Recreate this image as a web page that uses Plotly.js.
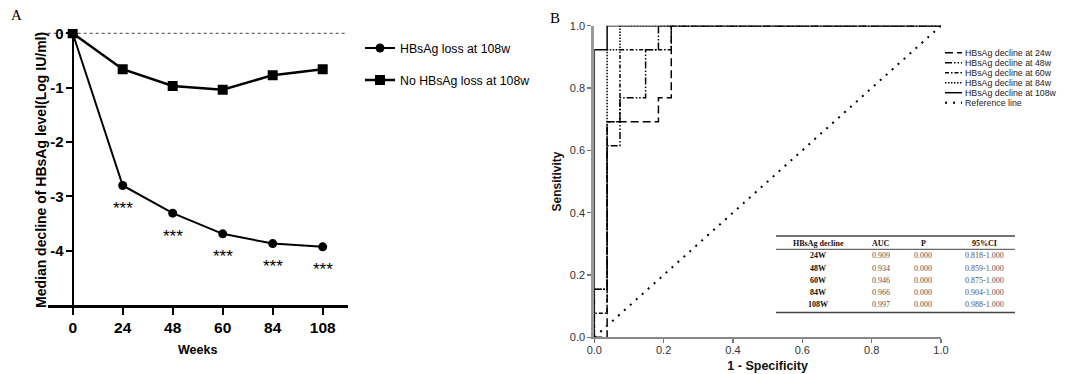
<!DOCTYPE html>
<html><head><meta charset="utf-8">
<script src="https://cdn.plot.ly/plotly-3.0.1.min.js"></script>
<style>html,body{margin:0;padding:0;background:#fff}#chart{width:1073px;height:374px}</style>
</head><body><div id="chart"></div>
<script>
// ---------- Panel A data ----------
const weeks = ['0', '24', '48', '60', '84', '108'];
const lossName = 'HBsAg loss at 108w';
const noLossName = 'No HBsAg loss at 108w';
const lossDecline = [0, -2.80, -3.31, -3.69, -3.87, -3.93];
const noLossDecline = [0, -0.66, -0.97, -1.04, -0.77, -0.66];
const sigMarks = ['', '***', '***', '***', '***', '***'];
const aYTickVals = [0, -1, -2, -3, -4];
const aYTickText = ['0', '-1', '-2', '-3', '-4'];
const aYTitle = 'Median decline of HBsAg level(Log IU/ml)';

// ---------- Panel B data ----------
const rocNames = ['HBsAg decline at 24w', 'HBsAg decline at 48w', 'HBsAg decline at 60w',
                  'HBsAg decline at 84w', 'HBsAg decline at 108w'];
const refName = 'Reference line';
const fpr24 = [0, 0.037, 0.037, 0.185, 0.185, 0.222, 0.222, 1];
const tpr24 = [0, 0, 0.692, 0.692, 0.769, 0.769, 1, 1];
const fpr48 = [0, 0, 0.037, 0.037, 0.074, 0.074, 0.148, 0.148, 0.185, 0.185, 1];
const tpr48 = [0, 0.154, 0.154, 0.615, 0.615, 0.769, 0.769, 0.923, 0.923, 1, 1];
const fpr60 = [0, 0, 0.037, 0.037, 0.074, 0.074, 0.222, 0.222, 1];
const tpr60 = [0, 0.077, 0.077, 0.692, 0.692, 0.923, 0.923, 1, 1];
const fpr84 = [0, 0, 0.037, 0.037, 0.074, 0.074, 1];
const tpr84 = [0, 0.154, 0.154, 0.923, 0.923, 1, 1];
const fpr108 = [0, 0, 0.037, 0.037, 1];
const tpr108 = [0, 0.923, 0.923, 1, 1];
const fprRef = [0, 1];
const tprRef = [0, 1];
const bTickVals = [0, 0.2, 0.4, 0.6, 0.8, 1.0];
const bTickText = ['0.0', '0.2', '0.4', '0.6', '0.8', '1.0'];

// ---------- Table data ----------
const tableHeader = ['HBsAg decline', 'AUC', 'P', '95%CI'];
const tableRows = ['24W', '48W', '60W', '84W', '108W'];
const aucVals = ['0.909', '0.934', '0.946', '0.966', '0.997'];
const pVals = ['0.000', '0.000', '0.000', '0.000', '0.000'];
const ciVals = ['0.818-1.000', '0.859-1.000', '0.875-1.000', '0.904-1.000', '0.988-1.000'];

// ---------- helpers (pixel -> paper) ----------
const W = 1073, H = 374;
const px = v => v / W;
const py = v => 1 - v / H;
const SANS = 'Liberation Sans, Arial, sans-serif';
const SERIF = 'Liberation Serif, Times New Roman, serif';

const rocX = [fpr24, fpr48, fpr60, fpr84, fpr108];
const rocY = [tpr24, tpr48, tpr60, tpr84, tpr108];
const rocDash = ['8px,4px', '7px,2px,1.5px,2px,1.5px,2px', '4px,2px,1.5px,2px', '1.5px,1.5px', 'solid'];
const refDash = '2px,6px';

const traces = [
  {x: weeks, y: lossDecline, name: lossName, type: 'scatter', mode: 'lines+markers',
   xaxis: 'x', yaxis: 'y', legendgroup: 'g1',
   line: {color: '#000', width: 2}, marker: {symbol: 'circle', size: 9, color: '#000'}},
  {x: weeks, y: noLossDecline, name: noLossName, type: 'scatter', mode: 'lines+markers',
   xaxis: 'x', yaxis: 'y', legendgroup: 'g2',
   line: {color: '#000', width: 2.5}, marker: {symbol: 'square', size: 10, color: '#000'}},
  {x: fprRef, y: tprRef, name: refName, type: 'scatter', mode: 'lines', xaxis: 'x2', yaxis: 'y2',
   showlegend: false, line: {color: '#000', width: 2, dash: refDash}}
];
rocNames.forEach((n, i) => {
  traces.push({x: rocX[i], y: rocY[i], name: n, type: 'scatter', mode: 'lines',
    xaxis: 'x2', yaxis: 'y2', showlegend: false,
    line: {color: '#000', width: 1.5, dash: rocDash[i], shape: 'linear'}});
});

const annotations = [
  {text: 'A', xref: 'paper', yref: 'paper', x: px(16.7), y: py(15), xanchor: 'center', yanchor: 'middle',
   showarrow: false, font: {family: SERIF, size: 15, color: '#000'}},
  {text: 'B', xref: 'paper', yref: 'paper', x: px(555), y: py(18.3), xanchor: 'center', yanchor: 'middle',
   showarrow: false, font: {family: SERIF, size: 15, color: '#000'}},
  {text: aYTitle, xref: 'paper', yref: 'paper', x: px(41.5), y: py(170.5), xanchor: 'center', yanchor: 'middle',
   textangle: -90, showarrow: false, font: {family: SANS, size: 14, weight: 'bold', color: '#000'}}
];
weeks.forEach((w, i) => {
  if (sigMarks[i]) annotations.push({text: sigMarks[i], xref: 'x', yref: 'y', x: weeks.indexOf(w),
    y: lossDecline[i], yshift: -23, xanchor: 'center', yanchor: 'middle', showarrow: false,
    font: {family: SANS, size: 17, color: '#000'}});
});

const shapes = [
  {type: 'line', xref: 'x domain', yref: 'y', x0: 0, x1: 1, y0: 0, y1: 0, layer: 'below',
   line: {color: '#444', width: 1, dash: 'dot'}}
];

// manual legend for panel B
const bLegNames = rocNames.concat([refName]);
const bLegDash = rocDash.concat([refDash]);
const bLegWidth = [1.5, 1.5, 1.5, 1.5, 1.5, 2];
bLegNames.forEach((n, i) => {
  const yy = 52.7 + i * 10;
  shapes.push({type: 'line', xref: 'paper', yref: 'paper', x0: px(945), x1: px(962), y0: py(yy), y1: py(yy),
    line: {color: '#000', width: bLegWidth[i], dash: bLegDash[i]}});
  annotations.push({text: n, xref: 'paper', yref: 'paper', x: px(963), y: py(yy), xanchor: 'left',
    yanchor: 'middle', showarrow: false, font: {family: SANS, size: 8.8, color: '#222'}});
});

// table
const tL = 776, tR = 1015;
[[236, 1.5], [249.3, 1], [312.5, 1.5]].forEach(([yy, w]) => {
  shapes.push({type: 'line', xref: 'paper', yref: 'paper', x0: px(tL), x1: px(tR), y0: py(yy), y1: py(yy),
    line: {color: '#444', width: w}});
});
const colX = [818.3, 880.5, 923.3, 984];
tableHeader.forEach((h, j) => {
  annotations.push({text: '<b>' + h + '</b>', xref: 'paper', yref: 'paper', x: px(colX[j]), y: py(243.3),
    xanchor: 'center', yanchor: 'middle', showarrow: false, font: {family: SERIF, size: 8, color: '#111'}});
});
const rowY = [256, 268.3, 280.7, 292.7, 304.3];
tableRows.forEach((r, i) => {
  const cells = ['<b>' + r + '</b>', aucVals[i], pVals[i], ciVals[i]];
  cells.forEach((c, j) => {
    annotations.push({text: c, xref: 'paper', yref: 'paper', x: px(colX[j]), y: py(rowY[i]),
      xanchor: 'center', yanchor: 'middle', showarrow: false,
      font: {family: SERIF, size: 8, color: j === 0 ? '#111' : '#555'}});
  });
});

const layout = {
  width: W, height: H, margin: {l: 0, r: 0, t: 0, b: 0},
  paper_bgcolor: '#fff', plot_bgcolor: 'rgba(0,0,0,0)',
  font: {family: SANS, color: '#000'},
  showlegend: true,
  legend: {x: px(360), y: py(33.5), xanchor: 'left', yanchor: 'top', traceorder: 'grouped',
    tracegroupgap: 13, bgcolor: 'rgba(0,0,0,0)', font: {family: SANS, size: 12.3, color: '#000'}},
  xaxis: {domain: [px(47.7), px(347.7)], anchor: 'y', type: 'category', range: [-0.5, 5.5],
    showline: true, linecolor: '#000', linewidth: 2.5, ticks: 'outside', ticklen: 7, tickwidth: 2,
    tickcolor: '#000', showgrid: false, zeroline: false,
    tickfont: {family: SANS, size: 15.5, weight: 'bold', color: '#000'},
    title: {text: 'Weeks', standoff: 10, font: {family: SANS, size: 12.5, weight: 'bold', color: '#000'}}},
  yaxis: {domain: [py(305), py(29)], anchor: 'free', position: px(72.7), range: [-5, 0.079],
    showline: true, linecolor: '#000', linewidth: 2.5, ticks: 'outside', ticklen: 6, tickwidth: 2,
    tickcolor: '#000', showgrid: false, zeroline: false, tickvals: aYTickVals, ticktext: aYTickText,
    ticklabelstandoff: -1,
    tickfont: {family: SANS, size: 15, weight: 'bold', color: '#000'}},
  xaxis2: {domain: [px(594.3), px(941)], anchor: 'y2', range: [0, 1], showline: true,
    linecolor: '#888', linewidth: 1.5, ticks: 'outside', ticklen: 4, tickwidth: 1.2, tickcolor: '#777',
    showgrid: false, zeroline: false, tickvals: bTickVals, ticktext: bTickText, ticklabelstandoff: -2,
    tickfont: {family: SANS, size: 11, color: '#333'},
    title: {text: '1 - Specificity', standoff: 6, font: {family: SANS, size: 12.5, weight: 'bold', color: '#111'}}},
  yaxis2: {domain: [py(337.3), py(25.7)], anchor: 'x2', range: [0, 1], showline: true,
    linecolor: '#999', linewidth: 3, ticks: 'outside', ticklen: 4, tickwidth: 1.2, tickcolor: '#777',
    showgrid: false, zeroline: false, tickvals: bTickVals, ticktext: bTickText, ticklabelstandoff: 0,
    tickfont: {family: SANS, size: 11, color: '#333'},
    title: {text: 'Sensitivity', standoff: 6, font: {family: SANS, size: 12, weight: 'bold', color: '#111'}}},
  shapes: shapes,
  annotations: annotations
};

Plotly.newPlot('chart', traces, layout, {displayModeBar: false, staticPlot: true});
</script>
</body></html>
